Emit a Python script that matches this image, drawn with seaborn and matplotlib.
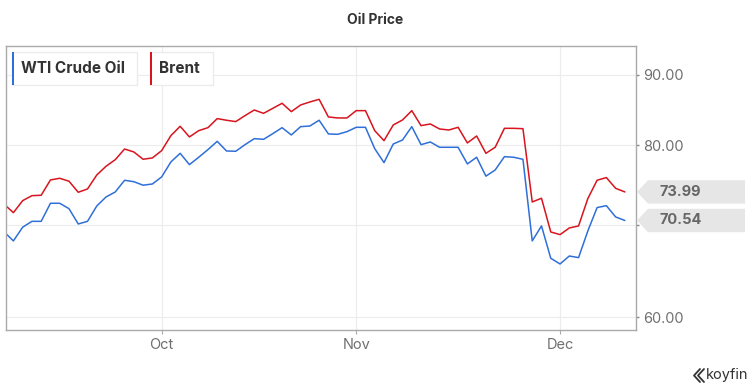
import numpy as np
import pandas as pd
import matplotlib
matplotlib.use("Agg")
import matplotlib.pyplot as plt
import seaborn as sns
from matplotlib.patches import Polygon, Rectangle
from matplotlib.lines import Line2D

# business days shown on the chart (2021-09-08 .. 2021-12-10)
dates = pd.bdate_range("2021-09-08", "2021-12-10")

wti = [69.20, 68.17, 69.75, 70.44, 70.44, 72.60, 72.60, 71.95, 70.13, 70.44,
       72.27, 73.37, 73.99, 75.45, 75.27, 74.83, 74.98, 75.87, 77.80, 78.93,
       77.45, 78.41, 79.42, 80.53, 79.24, 79.20, 80.08, 80.89, 80.80, 81.57,
       82.39, 81.39, 82.53, 82.62, 83.42, 81.53, 81.48, 81.84, 82.44, 82.44,
       79.55, 77.71, 80.17, 80.71, 82.53, 80.08, 80.44, 79.73, 79.73, 79.73,
       77.54, 78.41, 75.97, 76.76, 78.49, 78.41, 78.14, 68.17, 69.90, 66.22,
       65.59, 66.47, 66.29, 69.31, 72.08, 72.31, 70.96, 70.54]

brent = [72.48, 71.47, 72.92, 73.53, 73.58, 75.49, 75.70, 75.33, 73.95, 74.36,
         76.12, 77.24, 78.10, 79.50, 79.11, 78.15, 78.32, 79.28, 81.30, 82.58,
         81.12, 81.98, 82.39, 83.65, 83.42, 83.23, 84.07, 84.86, 84.39, 85.10,
         85.82, 84.63, 85.58, 86.01, 86.39, 83.88, 83.74, 83.74, 84.77, 84.77,
         81.98, 80.62, 82.76, 83.46, 84.77, 82.67, 82.90, 82.21, 82.07, 82.44,
         80.31, 81.25, 78.93, 79.73, 82.30, 82.30, 82.25, 72.76, 73.21, 69.20,
         68.89, 69.66, 69.90, 73.17, 75.45, 75.79, 74.44, 73.99]

series_names = ["WTI Crude Oil", "Brent"]
series_colors = ["#2f6fd8", "#d8141e"]
y_ticks = [60, 70, 80, 90]
y_tick_labels = ["60.00", "", "80.00", "90.00"]

df = pd.DataFrame({
    "idx": np.tile(np.arange(len(dates)), 2),
    "price": wti + brent,
    "series": np.repeat(series_names, len(dates)),
})

sns.set_theme(style="white")
plt.rcParams["font.family"] = ["Inter", "DejaVu Sans"]

W, H = 750, 387
fig = plt.figure(figsize=(W / 100, H / 100), dpi=100)
ax = fig.add_axes([5.7 / W, (H - 330) / H, (636 - 5.7) / W, (330 - 45.7) / H])

sns.lineplot(data=df, x="idx", y="price", hue="series", palette=series_colors,
             hue_order=series_names, legend=False, linewidth=1.1, ax=ax)

ax.set_yscale("log")
ax.set_ylim(58.73, 94.5)
ax.set_xlim(0.17, 68.2)
ax.minorticks_off()
ax.set_yticks(y_ticks)
ax.set_yticklabels(y_tick_labels)
ax.yaxis.tick_right()

# month ticks at the first business day of each month
month_pos = [i for i in range(1, len(dates)) if dates[i].month != dates[i - 1].month]
ax.set_xticks(month_pos)
ax.set_xticklabels([dates[i].strftime("%b") for i in month_pos])
ax.set_xlabel("")
ax.set_ylabel("")

ax.tick_params(axis="x", length=3, width=0.8, color="#aaaaaa", labelsize=10.5,
               labelcolor="#707070", pad=3, bottom=True)
ax.tick_params(axis="y", length=2, width=1, color="#888888", labelsize=10.5,
               labelcolor="#707070", pad=3, right=True)
ax.grid(True, color="#ececec", linewidth=0.8)
for sp in ax.spines.values():
    sp.set_color("#aaaaaa")
    sp.set_linewidth(1)

fig.text(0.5, 1 - 20 / H, "Oil Price", ha="center", va="center",
         fontsize=10, fontweight="bold", color="#333333")

# legend boxes with coloured bar
leg_boxes = [(11.5, 137), (150, 213)]
for (x0, x1), name, col in zip(leg_boxes, series_names, series_colors):
    y0, y1 = H - 85, H - 52
    fig.add_artist(Rectangle((x0, y0), x1 - x0, y1 - y0, transform=None,
                             facecolor="white", edgecolor="#ebebeb", linewidth=1, zorder=3))
    fig.add_artist(Rectangle((x0, y0), 2, y1 - y0, transform=None,
                             facecolor=col, edgecolor="none", zorder=4))
    fig.text((x0 + 9.5) / W, (y0 + y1) / 2 / H, name, ha="left", va="center",
             fontsize=11, fontweight="bold", color="#333333", zorder=5)

# last value tags
fig.canvas.draw()
for vals in [brent, wti]:
    last = vals[-1]
    yc = ax.transData.transform((0, last))[1]
    hh = 11.7
    pts = [(637, yc), (648, yc + hh), (745, yc + hh), (745, yc - hh), (648, yc - hh)]
    fig.add_artist(Polygon(pts, closed=True, transform=None, facecolor="#e6e6e6",
                           edgecolor="none", zorder=3))
    fig.text(659 / W, yc / H, f"{last:.2f}", ha="left", va="center",
             fontsize=10.5, fontweight="bold", color="#666666", zorder=4)

# koyfin mark
for dx in (0, 4):
    fig.add_artist(Line2D([(700 + dx) / W, (694 + dx) / W, (700 + dx) / W],
                          [(H - 369) / H, (H - 375.5) / H, (H - 382) / H],
                          color="#333333", linewidth=1.3))
fig.text(706 / W, (H - 375) / H, "koyfin", ha="left", va="center",
         fontsize=10.5, color="#333333")

fig.savefig("out.png", dpi=100)
